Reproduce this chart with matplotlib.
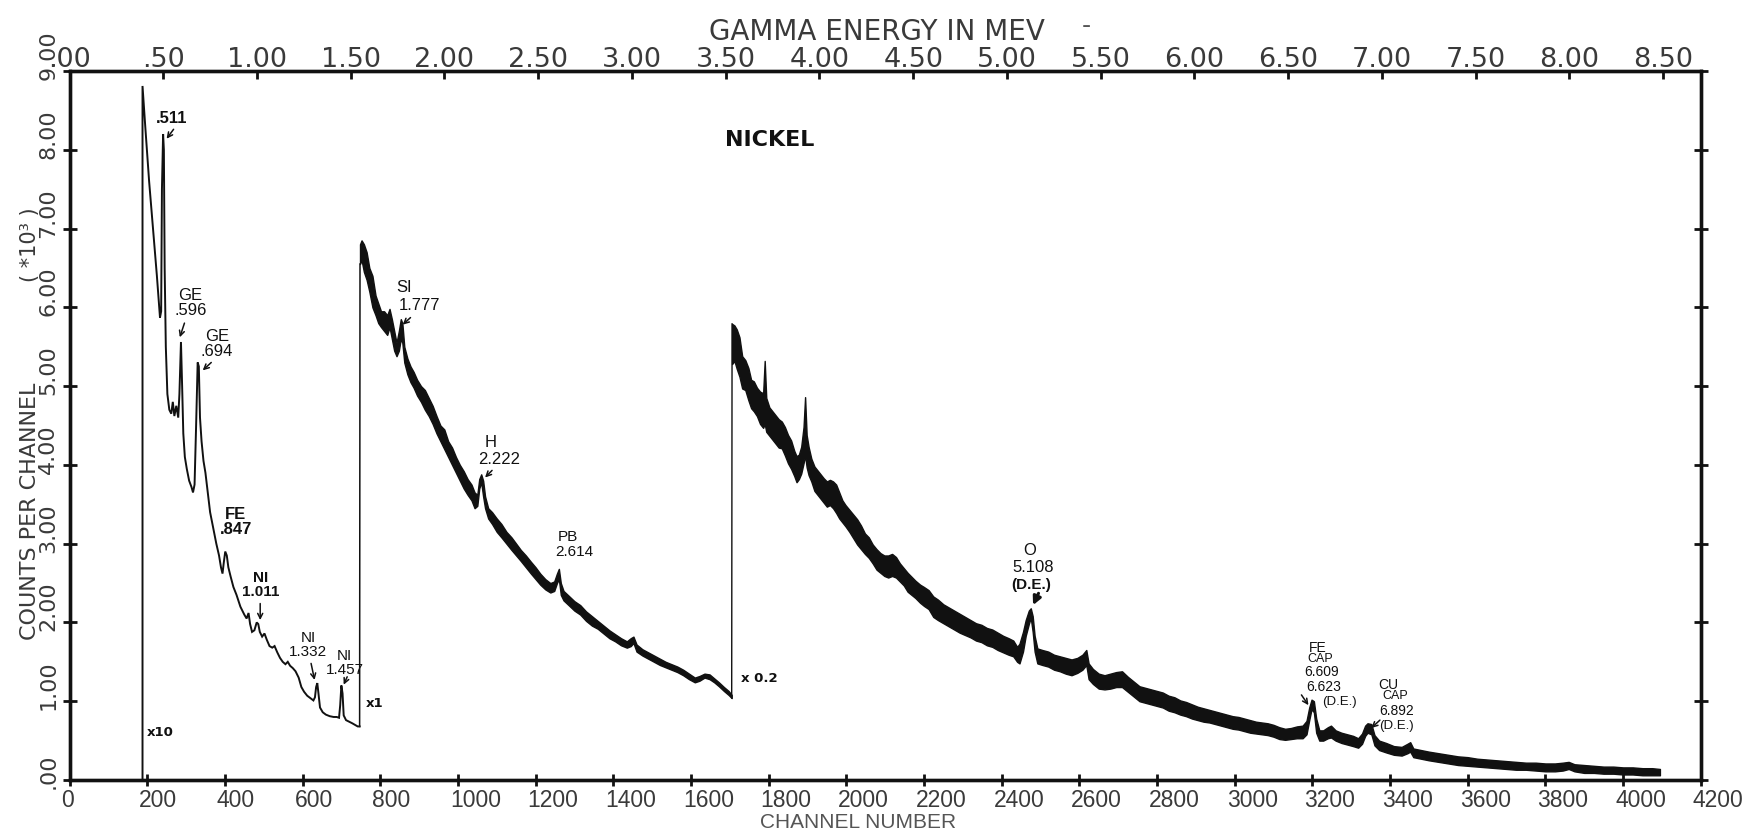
import matplotlib
matplotlib.use("Agg")
import matplotlib.pyplot as plt
import matplotlib.transforms as mtransforms

# ---- Spectrum data (counts per channel, x10^3) ----
# Low-energy section, plotted at x10
seg_a_ch = [188, 188, 195, 205, 215, 225, 233, 236, 238, 241, 243, 245, 248, 252, 257,
            262, 266, 270, 275, 280, 283, 287, 290, 293, 297, 302, 308, 314, 318, 322,
            326, 330, 333, 336, 340, 345, 350, 356, 362, 370, 378, 385, 390, 394, 397,
            401, 405, 409, 415, 422, 430, 440, 450, 456, 461, 465, 470, 476, 482, 486,
            490, 496, 502, 508, 515, 522, 528, 535, 542, 549, 556, 562, 568, 575, 582,
            590, 597, 604, 612, 620, 628, 632, 635, 638, 641, 645, 652, 660, 670, 680,
            688, 694, 697, 700, 703, 706, 712, 720, 728, 735, 742, 747]
seg_a_val = [0.00, 8.81, 8.30, 7.60, 7.00, 6.40, 5.87, 5.95, 7.50, 8.20, 8.00, 6.50, 5.50, 4.90, 4.70,
             4.65, 4.80, 4.62, 4.75, 4.60, 4.90, 5.56, 5.00, 4.40, 4.10, 3.95, 3.80, 3.72, 3.65, 3.75,
             4.50, 5.30, 5.25, 4.60, 4.30, 4.05, 3.90, 3.65, 3.40, 3.20, 3.00, 2.85, 2.70, 2.62, 2.75,
             2.90, 2.85, 2.70, 2.58, 2.45, 2.35, 2.20, 2.10, 2.05, 2.12, 1.98, 1.88, 1.90, 2.00, 1.98,
             1.88, 1.82, 1.86, 1.78, 1.70, 1.68, 1.70, 1.62, 1.55, 1.50, 1.47, 1.50, 1.45, 1.42, 1.38,
             1.30, 1.18, 1.12, 1.07, 1.04, 1.01, 1.05, 1.18, 1.23, 1.10, 0.92, 0.86, 0.83, 0.81, 0.80,
             0.80, 0.79, 0.95, 1.20, 1.10, 0.82, 0.76, 0.74, 0.72, 0.70, 0.68, 0.68]

# Middle section, plotted at x1 (lower / upper edge of the noise band)
seg_b_ch = [748, 752, 758, 765, 772, 780, 788, 795, 802, 810, 818, 824, 830, 836, 842,
            848, 853, 857, 862, 870, 878, 886, 895, 905, 915, 925, 935, 945, 955, 965,
            975, 985, 995, 1005, 1015, 1025, 1035, 1043, 1050, 1055, 1060, 1065, 1070, 1078, 1088,
            1100, 1112, 1125, 1138, 1150, 1162, 1175, 1188, 1200, 1212, 1225, 1238, 1248, 1255, 1260,
            1265, 1272, 1285, 1300, 1315, 1330, 1345, 1360, 1375, 1390, 1405, 1420, 1435, 1445, 1452,
            1460, 1475, 1490, 1505, 1520, 1535, 1550, 1565, 1580, 1595, 1610, 1622, 1635, 1648, 1660,
            1672, 1685, 1697, 1705]
seg_b_lo = [6.55, 6.60, 6.45, 6.35, 6.20, 6.00, 5.90, 5.80, 5.75, 5.70, 5.65, 5.75, 5.60, 5.45, 5.38,
            5.45, 5.60, 5.55, 5.30, 5.15, 5.05, 4.98, 4.88, 4.80, 4.70, 4.62, 4.52, 4.40, 4.30, 4.20,
            4.10, 4.00, 3.90, 3.80, 3.70, 3.62, 3.55, 3.45, 3.48, 3.70, 3.78, 3.60, 3.45, 3.32, 3.25,
            3.15, 3.08, 3.00, 2.92, 2.85, 2.78, 2.70, 2.62, 2.55, 2.48, 2.42, 2.38, 2.40, 2.50, 2.55,
            2.35, 2.28, 2.22, 2.15, 2.10, 2.02, 1.96, 1.92, 1.86, 1.80, 1.76, 1.71, 1.68, 1.70, 1.74,
            1.63, 1.58, 1.54, 1.50, 1.46, 1.43, 1.40, 1.37, 1.33, 1.28, 1.24, 1.26, 1.30, 1.28, 1.24,
            1.19, 1.13, 1.08, 1.04]
seg_b_hi = [6.80, 6.85, 6.80, 6.70, 6.50, 6.40, 6.15, 6.05, 5.95, 5.95, 5.90, 5.98, 5.85, 5.70, 5.55,
            5.70, 5.85, 5.80, 5.50, 5.35, 5.25, 5.18, 5.08, 5.00, 4.95, 4.85, 4.75, 4.62, 4.50, 4.45,
            4.30, 4.22, 4.10, 4.00, 3.92, 3.82, 3.75, 3.65, 3.62, 3.82, 3.88, 3.80, 3.60, 3.45, 3.40,
            3.32, 3.25, 3.15, 3.08, 3.00, 2.92, 2.85, 2.77, 2.70, 2.62, 2.55, 2.50, 2.52, 2.62, 2.68,
            2.50, 2.40, 2.34, 2.27, 2.22, 2.14, 2.08, 2.02, 1.96, 1.90, 1.85, 1.80, 1.76, 1.80, 1.82,
            1.72, 1.66, 1.62, 1.58, 1.54, 1.50, 1.47, 1.44, 1.40, 1.35, 1.30, 1.32, 1.35, 1.34, 1.29,
            1.24, 1.18, 1.13, 1.08]

# High-energy section, plotted at x0.2 (lower / upper edge of the noise band)
seg_c_ch = [1706, 1712, 1718, 1725, 1732, 1740, 1748, 1755, 1762, 1770, 1778, 1786, 1790, 1794, 1802,
            1810, 1818, 1826, 1834, 1842, 1850, 1858, 1866, 1872, 1878, 1884, 1890, 1894, 1898, 1903,
            1910, 1918, 1926, 1934, 1942, 1950, 1958, 1966, 1974, 1982, 1990, 1998, 2008, 2018, 2028,
            2038, 2048, 2058, 2068, 2078, 2088, 2098, 2108, 2118, 2128, 2138, 2148, 2158, 2168, 2178,
            2190, 2200, 2212, 2224, 2236, 2250, 2264, 2278, 2292, 2306, 2320, 2334, 2348, 2362, 2376,
            2390, 2404, 2418, 2430, 2440, 2446, 2455, 2462, 2470, 2475, 2480, 2485, 2492, 2505, 2520,
            2535, 2550, 2565, 2580, 2595, 2608, 2618, 2624, 2635, 2650, 2665, 2680, 2695, 2710, 2725,
            2740, 2755, 2770, 2785, 2800, 2815, 2830, 2845, 2860, 2875, 2890, 2905, 2920, 2935, 2950,
            2965, 2980, 2995, 3010, 3025, 3040, 3055, 3070, 3085, 3100, 3115, 3130, 3145, 3160, 3175,
            3185, 3192, 3198, 3204, 3210, 3218, 3228, 3240, 3248, 3260, 3275, 3290, 3305, 3318, 3328,
            3336, 3342, 3352, 3360, 3372, 3390, 3410, 3430, 3445, 3452, 3460, 3480, 3500, 3525, 3550,
            3575, 3600, 3625, 3650, 3675, 3700, 3725, 3750, 3775, 3800, 3825, 3845, 3860, 3875, 3900,
            3925, 3950, 3975, 4000, 4025, 4050, 4075, 4095]
seg_c_lo = [5.28, 5.32, 5.22, 5.12, 4.97, 4.95, 4.82, 4.72, 4.68, 4.62, 4.52, 4.47, 4.52, 4.42, 4.37,
            4.32, 4.27, 4.22, 4.21, 4.12, 4.02, 3.95, 3.86, 3.78, 3.82, 3.89, 4.02, 4.12, 3.97, 3.87,
            3.79, 3.67, 3.62, 3.57, 3.52, 3.47, 3.49, 3.45, 3.39, 3.32, 3.27, 3.22, 3.15, 3.07, 2.99,
            2.93, 2.87, 2.82, 2.75, 2.67, 2.63, 2.59, 2.57, 2.59, 2.57, 2.52, 2.47, 2.39, 2.35, 2.31,
            2.25, 2.21, 2.17, 2.07, 2.03, 1.99, 1.95, 1.91, 1.87, 1.84, 1.81, 1.77, 1.75, 1.71, 1.69,
            1.65, 1.62, 1.59, 1.57, 1.50, 1.48, 1.63, 1.83, 1.98, 2.06, 1.88, 1.63, 1.48, 1.46, 1.44,
            1.40, 1.38, 1.35, 1.33, 1.36, 1.40, 1.46, 1.28, 1.22, 1.16, 1.15, 1.16, 1.18, 1.18, 1.12,
            1.06, 1.00, 0.98, 0.96, 0.94, 0.92, 0.88, 0.86, 0.83, 0.81, 0.78, 0.76, 0.74, 0.73, 0.71,
            0.69, 0.67, 0.65, 0.64, 0.62, 0.60, 0.59, 0.58, 0.57, 0.55, 0.52, 0.51, 0.52, 0.53, 0.53,
            0.58, 0.76, 0.90, 0.86, 0.60, 0.50, 0.50, 0.53, 0.54, 0.50, 0.47, 0.45, 0.43, 0.41, 0.46,
            0.56, 0.60, 0.58, 0.44, 0.38, 0.35, 0.32, 0.31, 0.34, 0.36, 0.29, 0.27, 0.25, 0.23, 0.21,
            0.19, 0.18, 0.17, 0.16, 0.15, 0.14, 0.13, 0.13, 0.12, 0.11, 0.11, 0.12, 0.14, 0.11, 0.09,
            0.09, 0.08, 0.08, 0.07, 0.07, 0.06, 0.06, 0.06]
seg_c_hi = [5.79, 5.77, 5.72, 5.62, 5.38, 5.33, 5.23, 5.08, 5.06, 4.98, 4.93, 4.91, 5.32, 4.85, 4.73,
            4.68, 4.63, 4.58, 4.55, 4.48, 4.38, 4.31, 4.18, 4.11, 4.13, 4.23, 4.48, 4.86, 4.38, 4.23,
            4.08, 3.98, 3.93, 3.88, 3.83, 3.79, 3.81, 3.79, 3.75, 3.65, 3.55, 3.49, 3.43, 3.37, 3.31,
            3.23, 3.13, 3.08, 2.99, 2.93, 2.88, 2.85, 2.85, 2.87, 2.83, 2.75, 2.69, 2.63, 2.58, 2.53,
            2.48, 2.45, 2.41, 2.33, 2.29, 2.23, 2.19, 2.15, 2.11, 2.07, 2.03, 1.99, 1.97, 1.93, 1.91,
            1.87, 1.83, 1.80, 1.77, 1.69, 1.73, 1.88, 2.03, 2.15, 2.18, 2.08, 1.83, 1.67, 1.65, 1.63,
            1.59, 1.57, 1.55, 1.53, 1.55, 1.59, 1.65, 1.48, 1.41, 1.35, 1.33, 1.35, 1.37, 1.38, 1.31,
            1.25, 1.19, 1.17, 1.15, 1.13, 1.11, 1.07, 1.05, 1.01, 0.99, 0.96, 0.93, 0.91, 0.89, 0.87,
            0.85, 0.83, 0.81, 0.80, 0.78, 0.76, 0.74, 0.73, 0.72, 0.70, 0.67, 0.65, 0.66, 0.68, 0.69,
            0.75, 0.92, 1.02, 1.00, 0.78, 0.63, 0.63, 0.67, 0.69, 0.63, 0.60, 0.58, 0.56, 0.53, 0.59,
            0.69, 0.72, 0.71, 0.57, 0.50, 0.47, 0.43, 0.42, 0.46, 0.48, 0.40, 0.38, 0.36, 0.34, 0.32,
            0.30, 0.29, 0.27, 0.26, 0.25, 0.24, 0.23, 0.22, 0.22, 0.21, 0.21, 0.22, 0.23, 0.20, 0.19,
            0.18, 0.17, 0.17, 0.16, 0.16, 0.15, 0.15, 0.14]

# ---- Axis labels ----
channel_ticks = list(range(0, 4201, 200))
channel_labels = [str(c) for c in channel_ticks]
energy_ticks = [0.5 * i for i in range(18)]
energy_labels = [".00", ".50", "1.00", "1.50", "2.00", "2.50", "3.00", "3.50", "4.00",
                 "4.50", "5.00", "5.50", "6.00", "6.50", "7.00", "7.50", "8.00", "8.50"]
count_ticks = list(range(0, 10))
count_labels = [".00", "1.00", "2.00", "3.00", "4.00", "5.00", "6.00", "7.00", "8.00", "9.00"]

# ---- Peak identifications: (text, x, y, weight, size) ----
peak_texts = [
    (".511", 262, 8.40, "bold", 12),
    ("GE\n.596", 312, 6.05, "normal", 12),
    ("GE\n.694", 380, 5.53, "normal", 12),
    ("FE\n.847", 428, 3.27, "bold", 12),
    ("NI\n1.011", 491, 2.48, "bold", 11),
    ("NI\n1.332", 614, 1.72, "normal", 11),
    ("NI\n1.457", 709, 1.49, "normal", 11),
    ("SI", 862, 6.25, "normal", 12),
    ("1.777", 900, 6.02, "normal", 12),
    ("H", 1084, 4.29, "normal", 12),
    ("2.222", 1105, 4.07, "normal", 12),
    ("PB", 1284, 3.08, "normal", 11),
    ("2.614", 1300, 2.89, "normal", 11),
    ("O", 2473, 2.91, "normal", 12),
    ("5.108", 2481, 2.70, "normal", 12),
    ("(D.E.)", 2475, 2.48, "bold", 11),
    ("FE", 3215, 1.67, "normal", 10),
    ("CAP", 3220, 1.53, "normal", 9),
    ("6.609", 3224, 1.37, "normal", 10),
    ("6.623", 3228, 1.18, "normal", 10),
    ("(D.E.)", 3270, 0.99, "normal", 9.5),
    ("CU", 3395, 1.20, "normal", 10),
    ("CAP", 3413, 1.07, "normal", 9),
    ("6.892", 3417, 0.88, "normal", 10),
    ("(D.E.)", 3417, 0.68, "normal", 9.5),
]
# arrows: (tail x, tail y, head x, head y)
peak_arrows = [
    (268, 8.26, 250, 8.14),
    (296, 5.80, 284, 5.62),
    (365, 5.30, 343, 5.20),
    (491, 2.24, 491, 2.03),
    (622, 1.48, 631, 1.27),
    (715, 1.31, 706, 1.21),
    (878, 5.87, 858, 5.78),
    (1088, 3.93, 1070, 3.84),
    (3172, 1.08, 3190, 0.95),
    (3374, 0.76, 3352, 0.66),
]
bold_arrow = (2495, 2.37, 2481, 2.22)

# gain markers for each section: (text, left x, y)
scale_marks = [("x10", 200, 0.60), ("x1", 763, 0.97), ("x 0.2", 1728, 1.29)]

W, H = 1754, 833
fig = plt.figure(figsize=(W / 100, H / 100), dpi=100)
fig.patch.set_facecolor("white")
ax = fig.add_axes([69.5 / W, 1 - 780 / H, (1700.7 - 69.5) / W, (780 - 71) / H])
ax.set_xlim(0, 4200)
ax.set_ylim(0, 9)

ink = "#111111"
label_grey = "#3a3a3a"
plot_font = ["DejaVu Sans"]
note_font = ["Liberation Sans", "DejaVu Sans"]

# spectrum
ax.plot(seg_a_ch, seg_a_val, color=ink, lw=1.4, solid_joinstyle="miter")
ax.plot([seg_a_ch[-1], seg_b_ch[0]], [seg_a_val[-1], seg_b_lo[0]], color=ink, lw=1.1)
ax.fill_between(seg_b_ch, seg_b_lo, seg_b_hi, color=ink, lw=1.0, edgecolor=ink)
ax.plot([seg_b_ch[-1], seg_c_ch[0]], [seg_b_lo[-1], seg_c_hi[0]], color=ink, lw=1.0)
ax.fill_between(seg_c_ch, seg_c_lo, seg_c_hi, color=ink, lw=1.0, edgecolor=ink)

# frame and ticks
for sp in ax.spines.values():
    sp.set_linewidth(2.4)
    sp.set_color(ink)
ax.set_xticks(channel_ticks)
ax.set_xticklabels(channel_labels, family=note_font, fontsize=16.5, color=label_grey)
ax.set_yticks(count_ticks)
ax.set_yticklabels(count_labels, family=plot_font, fontsize=16, color=label_grey,
                   rotation=90, va="bottom", ha="right")
ax.tick_params(axis="x", which="both", direction="inout", length=8, width=2,
               top=False, pad=2.5, colors=ink, labelcolor=label_grey)
ax.tick_params(axis="y", which="both", direction="inout", length=10, width=2,
               left=True, right=True, pad=3, colors=ink, labelcolor=label_grey)

shift_x = mtransforms.ScaledTranslation(-8 / 100, 0, fig.dpi_scale_trans)
for lab in ax.get_xticklabels():
    lab.set_horizontalalignment("left")
    lab.set_transform(lab.get_transform() + shift_x)
shift_y = mtransforms.ScaledTranslation(0, -9 / 100, fig.dpi_scale_trans)
for lab in ax.get_yticklabels():
    lab.set_transform(lab.get_transform() + shift_y)

# energy scale on top
ax2 = ax.twiny()
ax2.set_xlim(0, 8.70)
ax2.set_xticks(energy_ticks)
ax2.set_xticklabels(energy_labels, family=plot_font, fontsize=19.5, color=label_grey)
ax2.tick_params(axis="x", direction="in", length=6, width=2, pad=-1.5, colors=ink,
                labelcolor=label_grey)
for sp in ax2.spines.values():
    sp.set_linewidth(2.4)
    sp.set_color(ink)

# titles and axis names
fig.text(877 / W, 1 - 40 / H, "GAMMA ENERGY IN MEV", family=plot_font, fontsize=20,
         color=label_grey, ha="center", va="baseline")
fig.text(1086 / W, 1 - 26 / H, "-", family=plot_font, fontsize=18,
         color="#555555", ha="center", va="center")
fig.text(858 / W, 1 - 822 / H, "CHANNEL NUMBER", family=note_font, fontsize=15,
         color="#555555", ha="center", va="center")
fig.text(29.5 / W, 1 - 511 / H, "COUNTS PER CHANNEL", family=plot_font, fontsize=16,
         color=label_grey, rotation=90, ha="center", va="center")
fig.text(30 / W, 1 - 245 / H, "( *10\u00b3 )", family=plot_font, fontsize=15,
         color=label_grey, rotation=90, ha="center", va="center")

ax.text(1804, 8.12, "NICKEL", family=plot_font, fontsize=16, fontweight="bold",
        color=ink, ha="center", va="center")

for txt, x, y, wt, fs in peak_texts:
    ax.text(x, y, txt, family=note_font, fontsize=fs, fontweight=wt, color=ink,
            ha="center", va="center", linespacing=1.0)

for x0, y0, x1, y1 in peak_arrows:
    ax.annotate("", xy=(x1, y1), xytext=(x0, y0),
                arrowprops=dict(arrowstyle="->", color=ink, lw=1.1,
                                shrinkA=0, shrinkB=0, mutation_scale=9))
ax.annotate("", xy=bold_arrow[2:], xytext=bold_arrow[:2],
            arrowprops=dict(arrowstyle="-|>", color=ink, lw=2.2,
                            shrinkA=0, shrinkB=0, mutation_scale=12))

for txt, x, y in scale_marks:
    ax.text(x, y, txt, family=plot_font, fontsize=9.5, fontweight="bold", color=ink,
            ha="left", va="center")

fig.savefig("out.png", dpi=100, facecolor="white")
